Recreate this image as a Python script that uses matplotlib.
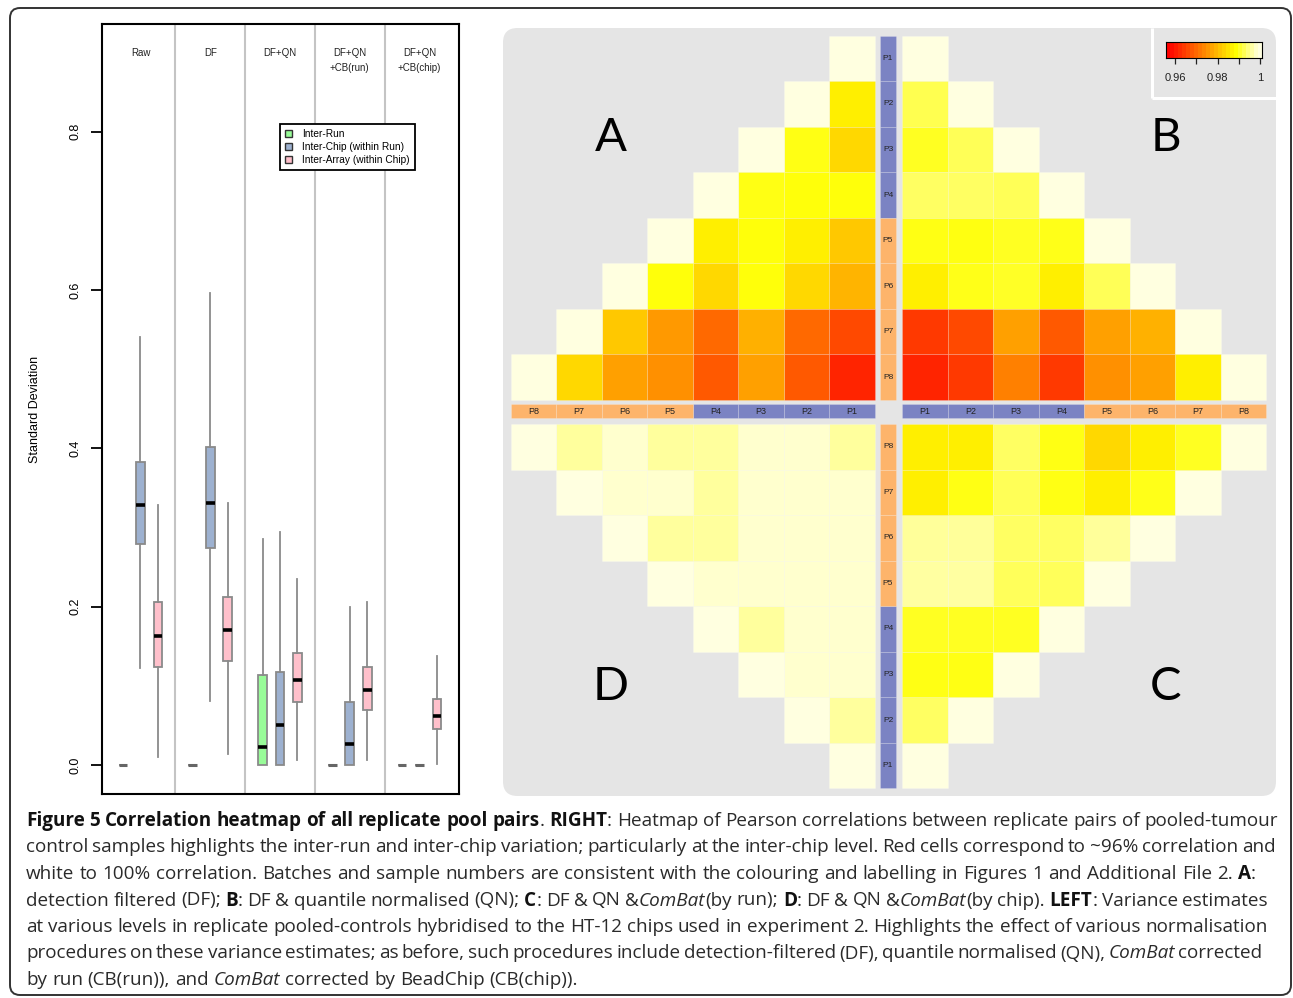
import numpy as np
import matplotlib.pyplot as plt
from matplotlib.patches import Rectangle, FancyBboxPatch, Patch
from matplotlib.colors import LinearSegmentedColormap, Normalize
from matplotlib.font_manager import FontProperties

plt.rcParams['font.family'] = ['Liberation Sans', 'DejaVu Sans']

W, H = 1293, 998

# ---------------- data: left panel (variance estimates) ----------------
methods_top = ["Raw", "DF", "DF+QN", "DF+QN", "DF+QN"]
methods_bottom = ["", "", "", "+CB(run)", "+CB(chip)"]
levels = ["Inter-Run", "Inter-Chip (within Run)", "Inter-Array (within Chip)"]
level_colors = ["#98fb98", "#9db1d0", "#ffc0cb"]

# (lower whisker, Q1, median, Q3, upper whisker), one tuple per method
inter_run = [(0, 0, 0, 0, 0), (0, 0, 0, 0, 0), (0, 0, 0.023, 0.114, 0.286),
             (0, 0, 0, 0, 0), (0, 0, 0, 0, 0)]
inter_chip = [(0.122, 0.279, 0.328, 0.383, 0.541), (0.081, 0.274, 0.331, 0.402, 0.596),
              (0, 0, 0.050, 0.117, 0.294), (0, 0, 0.026, 0.080, 0.200), (0, 0, 0, 0, 0)]
inter_array = [(0.010, 0.124, 0.163, 0.206, 0.328), (0.014, 0.132, 0.171, 0.212, 0.331),
               (0.006, 0.079, 0.107, 0.141, 0.235), (0.006, 0.070, 0.095, 0.124, 0.206),
               (0.001, 0.045, 0.062, 0.083, 0.138)]

# ---------------- data: right panel (correlation heatmap) ----------------
pools = ["P1", "P2", "P3", "P4", "P5", "P6", "P7", "P8"]
# row Pi holds correlations with P1..Pi
corr_A = [[1.0],
          [0.9868, 1.0],
          [0.9840, 0.9900, 1.0],
          [0.9895, 0.9895, 0.9900, 1.0],
          [0.9819, 0.9868, 0.9895, 0.9868, 1.0],
          [0.9793, 0.9840, 0.9895, 0.9840, 0.9895, 1.0],
          [0.9656, 0.9697, 0.9788, 0.9697, 0.9759, 0.9819, 1.0],
          [0.9607, 0.9676, 0.9767, 0.9676, 0.9746, 0.9767, 0.9840, 1.0]]
corr_B = [[1.0],
          [0.9929, 1.0],
          [0.9906, 0.9932, 1.0],
          [0.9937, 0.9937, 0.9932, 1.0],
          [0.9900, 0.9898, 0.9906, 0.9902, 1.0],
          [0.9868, 0.9902, 0.9908, 0.9868, 0.9932, 1.0],
          [0.9635, 0.9656, 0.9767, 0.9676, 0.9767, 0.9790, 1.0],
          [0.9607, 0.9635, 0.9726, 0.9635, 0.9746, 0.9767, 0.9868, 1.0]]
corr_C = [[1.0],
          [0.9937, 1.0],
          [0.9900, 0.9900, 1.0],
          [0.9906, 0.9906, 0.9906, 1.0],
          [0.9969, 0.9969, 0.9934, 0.9934, 1.0],
          [0.9965, 0.9965, 0.9937, 0.9937, 0.9965, 1.0],
          [0.9868, 0.9900, 0.9932, 0.9900, 0.9868, 0.9902, 1.0],
          [0.9868, 0.9868, 0.9937, 0.9900, 0.9840, 0.9868, 0.9906, 1.0]]
corr_D = [[1.0],
          [0.9966, 1.0],
          [0.999, 0.999, 1.0],
          [0.999, 0.999, 0.9966, 1.0],
          [0.999, 0.999, 0.999, 0.999, 1.0],
          [0.999, 0.999, 0.999, 0.9966, 0.9966, 1.0],
          [0.999, 0.999, 0.999, 0.9966, 0.999, 0.999, 1.0],
          [0.9966, 0.999, 0.999, 0.9966, 0.9966, 0.999, 0.9966, 1.0]]
cbar_ticks = [0.96, 0.97, 0.98, 0.99, 1.0]
cbar_labels = ["0.96", "", "0.98", "", "1"]

caption = [
    [("Figure 5 Correlation heatmap of all replicate pool pairs", "b"), (". ", "r"), ("RIGHT", "b"),
     (": Heatmap of Pearson correlations between replicate pairs of pooled-tumour", "r")],
    [("control samples highlights the inter-run and inter-chip variation; particularly at the "
      "inter-chip level. Red cells correspond to ~96% correlation and", "r")],
    [("white to 100% correlation. Batches and sample numbers are consistent with the colouring "
      "and labelling in Figures 1 and Additional File 2. ", "r"), ("A", "b"), (":", "r")],
    [("detection filtered (DF); ", "r"), ("B", "b"), (": DF & quantile normalised (QN); ", "r"),
     ("C", "b"), (": DF & QN &", "r"), ("ComBat", "i"), ("(by run); ", "r"), ("D", "b"),
     (": DF & QN &", "r"), ("ComBat", "i"), ("(by chip). ", "r"), ("LEFT", "b"),
     (": Variance estimates", "r")],
    [("at various levels in replicate pooled-controls hybridised to the HT-12 chips used in "
      "experiment 2. Highlights the effect of various normalisation", "r")],
    [("procedures on these variance estimates; as before, such procedures include "
      "detection-filtered (DF), quantile normalised (QN), ", "r"), ("ComBat", "i"), (" corrected", "r")],
    [("by run (CB(run)), and ", "r"), ("ComBat", "i"), (" corrected by BeadChip (CB(chip)).", "r")],
]
cap_right = [1278, 1276, 1256, 1268, 1268, 1262, None]

fig = plt.figure(figsize=(W / 100, H / 100), dpi=100)

# page overlay in pixel units (frame + caption)
ax0 = fig.add_axes([0, 0, 1, 1])
ax0.set_xlim(0, W)
ax0.set_ylim(H, 0)
ax0.axis("off")
ax0.add_patch(FancyBboxPatch((10, 8), 1281, 987, boxstyle="round,pad=0,rounding_size=10",
                             fc="none", ec="#333333", lw=1.4, clip_on=False))

# ---------------- left: boxplots ----------------
ax = fig.add_axes([102 / W, 1 - 794 / H, 357 / W, 770 / H])
stats, pos, cols = [], [], []
for g in range(len(methods_top)):
    for k, series in enumerate([inter_run, inter_chip, inter_array]):
        lo, q1, med, q3, hi = series[g]
        stats.append(dict(whislo=lo, q1=q1, med=med, q3=q3, whishi=hi, fliers=[]))
        pos.append(g * 4 + k + 1)
        cols.append(level_colors[k])
bp = ax.bxp(stats, positions=pos, widths=0.5, patch_artist=True, showfliers=False, showcaps=False,
            boxprops=dict(edgecolor="#8a8a8a", linewidth=1.3),
            whiskerprops=dict(color="#8a8a8a", linewidth=1.3),
            medianprops=dict(color="black", linewidth=2.6))
for patch, c in zip(bp["boxes"], cols):
    patch.set_facecolor(c)
for st, med in zip(stats, bp["medians"]):
    if st["q3"] == st["q1"]:
        med.set_color("#666666")
        med.set_linewidth(2.2)
for g in range(1, len(methods_top)):
    ax.axvline(g * 4, color="#c4c4c4", lw=1.5, zorder=0)
for g, (t1, t2) in enumerate(zip(methods_top, methods_bottom)):
    ax.text(g * 4 + 2, 0.8996, t1, ha="center", va="center", fontsize=7, color="#222222")
    if t2:
        ax.text(g * 4 + 2, 0.8806, t2, ha="center", va="center", fontsize=7, color="#222222")
ax.set_xlim(-0.204, 20.26)
ax.set_ylim(-0.0366, 0.936)
ax.set_xticks([])
ax.set_yticks([0, 0.2, 0.4, 0.6, 0.8])
ax.set_yticklabels(["0.0", "0.2", "0.4", "0.6", "0.8"])
ax.tick_params(axis="y", length=8, width=1.3, labelsize=9, pad=7, labelrotation=90)
for lbl in ax.get_yticklabels():
    lbl.set_va("center")
for s in ax.spines.values():
    s.set_linewidth(1.5)
ax.set_ylabel("Standard Deviation", fontsize=9)
ax.yaxis.set_label_coords(-0.172, 0.5)
handles = [Patch(facecolor=c, edgecolor="#333333", lw=1.0) for c in level_colors]
leg = ax.legend(handles, levels, loc="upper left", bbox_to_anchor=(0.4986, 0.870), fontsize=7.3,
                handlelength=0.7, handleheight=0.7, handletextpad=1.0, labelspacing=0.3,
                borderpad=0.5, fancybox=False, framealpha=1, borderaxespad=0)
leg.get_frame().set_edgecolor("black")
leg.get_frame().set_linewidth(1.3)

# ---------------- right: correlation heatmap ----------------
cell = 45.55
cx, cy = 888.5, 412
ax2 = fig.add_axes([503 / W, 1 - 796 / H, 773 / W, 768 / H])
x_lo, x_hi = (503 - cx) / cell, (1276 - cx) / cell
y_lo, y_hi = -(796 - cy) / cell, (cy - 28) / cell
ax2.set_xlim(x_lo, x_hi)
ax2.set_ylim(y_lo, y_hi)
ax2.axis("off")
ax2.add_patch(FancyBboxPatch((x_lo, y_lo), x_hi - x_lo, y_hi - y_lo,
                             boxstyle="round,pad=0,rounding_size=0.32", fc="#e5e5e5", ec="none"))

heat = LinearSegmentedColormap.from_list("heat", [(0, "#ff0000"), (0.75, "#ffff00"), (1, "#ffffe0")])
norm = Normalize(0.956, 1.0)
hx, hy = 0.296, 0.263
quads = [(corr_A, -1, 1), (corr_B, 1, 1), (corr_C, 1, -1), (corr_D, -1, -1)]
for mat, sx, sy in quads:
    for i, row in enumerate(mat):
        for j, v in enumerate(row):
            x0 = hx + j if sx > 0 else -hx - j - 1
            y0 = hy + 7 - i if sy > 0 else -hy - 8 + i
            ax2.add_patch(Rectangle((x0, y0), 1, 1, fc=heat(norm(v)), ec=(1, 1, 1, 0.3), lw=0.4))

blue, orange = "#7b83c3", "#fdb46b"
sh, sv = 0.155, 0.175
for k, p in enumerate(pools):
    c = blue if k < 4 else orange
    for x0 in (hx + k, -hx - k - 1):
        ax2.add_patch(Rectangle((x0, 0.02 - sh), 1, 2 * sh, fc=c, ec=(1, 1, 1, 0.3), lw=0.4))
        ax2.text(x0 + 0.5, 0.02, p, ha="center", va="center", fontsize=6.5, color="#222222")
    for y0 in (hy + 7 - k, -hy - 8 + k):
        ax2.add_patch(Rectangle((-0.01 - sv, y0), 2 * sv, 1, fc=c, ec=(1, 1, 1, 0.3), lw=0.4))
        ax2.text(-0.01, y0 + 0.5, p, ha="center", va="center", fontsize=6, color="#222222")

for letter, (lx, ly) in zip("ABCD", [(-6.09, 6.02), (6.09, 6.02), (6.09, -6.04), (-6.09, -6.04)]):
    ax2.text(lx, ly, letter, ha="center", va="center", fontsize=34, family="Lato", color="black")

# legend corner separator
lgx, lgy = (1152 - cx) / cell, (cy - 97.5) / cell
ax2.plot([lgx, lgx], [y_hi, lgy], color="white", lw=2.2, solid_capstyle="butt")
ax2.plot([lgx, x_hi], [lgy, lgy], color="white", lw=2.2, solid_capstyle="butt")

cax = fig.add_axes([1166 / W, 1 - 58 / H, 96 / W, 16 / H])
grad = np.linspace(0.9558, 1.0009, 24)
cax.imshow(grad[None, :], cmap=heat, norm=norm, aspect="auto",
           extent=(grad[0], grad[-1], 0, 1), interpolation="nearest")
cax.set_xlim(grad[0], grad[-1])
cax.set_yticks([])
cax.set_xticks(cbar_ticks)
cax.set_xticklabels(cbar_labels)
cax.tick_params(axis="x", length=4.5, width=0.9, labelsize=8, pad=6, colors="#222222")
for s in cax.spines.values():
    s.set_linewidth(0.8)

# ---------------- caption (justified) ----------------
renderer = fig.canvas.get_renderer()
style_kw = {"r": dict(weight="normal", style="normal"),
            "b": dict(weight="bold", style="normal"),
            "i": dict(weight="normal", style="italic")}


def props(st, size):
    return FontProperties(family="Open Sans", size=size, **style_kw[st])


def width(s, st, size):
    return renderer.get_text_width_height_descent(s, props(st, size), ismath=False)[0]


def words_of(line):
    words = [[]]
    for text, st in line:
        for n, part in enumerate(text.split(" ")):
            if n > 0:
                words.append([])
            if part:
                words[-1].append((part, st))
    return [w for w in words if w]


def space_w(size):
    return width("a a", "r", size) - width("aa", "r", size)


base = 12.0
w1 = words_of(caption[0])
nat = sum(width(p, st, base) for w in w1 for p, st in w) + (len(w1) - 1) * space_w(base)
size = base * (1278 - 26) / nat

left = 26
for n, line in enumerate(caption):
    words = words_of(line)
    ww = [sum(width(p, st, size) for p, st in w) for w in words]
    if cap_right[n] is None:
        gap = space_w(size)
    else:
        gap = (cap_right[n] - left - sum(ww)) / (len(words) - 1)
    y = 826 + 26.5 * n
    x = left
    for w, wpx in zip(words, ww):
        xx = x
        for p, st in w:
            ax0.text(xx, y, p, fontproperties=props(st, size), ha="left", va="baseline",
                     color="#111111" if st == "b" else "#2a2a2a")
            xx += width(p, st, size)
        x += wpx + gap

fig.savefig("out.png", dpi=100)
